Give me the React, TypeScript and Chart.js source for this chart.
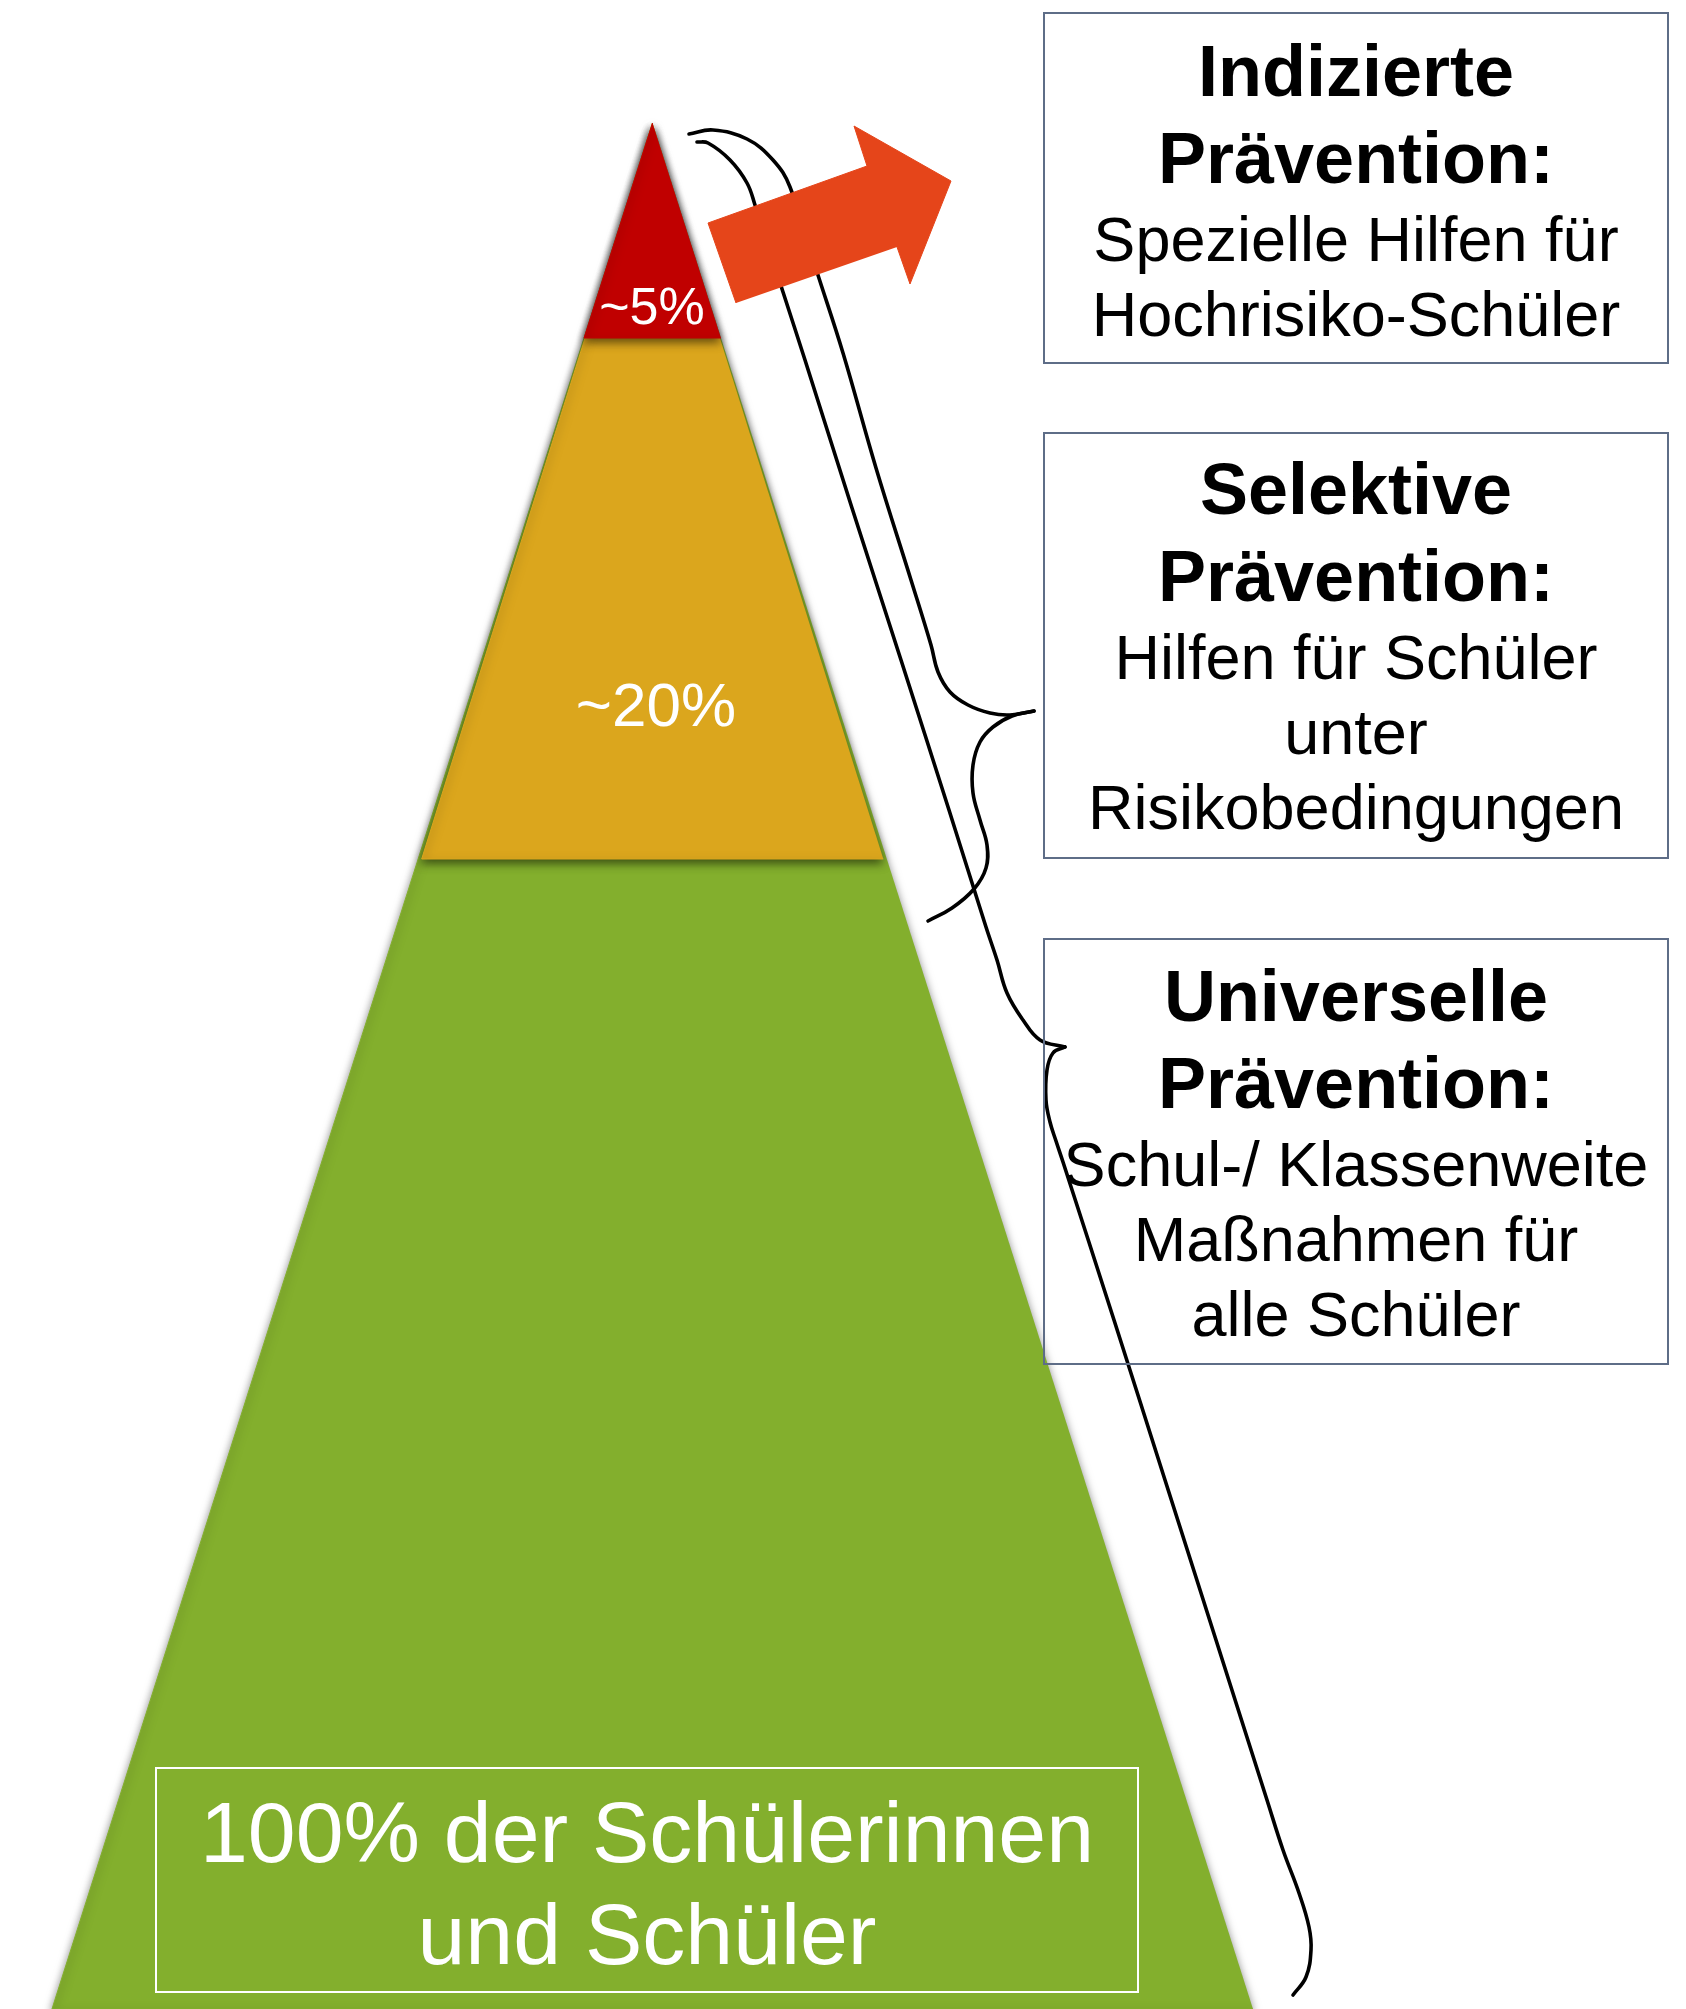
import React, { useEffect, useRef } from "react";
import { Chart, registerables } from "chart.js";

const W = 1686;
const H = 2009;

// ---------- Pyramid levels (top -> bottom) ----------
const levelShareLabels = ["~5%", "~20%"];
const levelBottomY = [338, 859, 2009];
const levelColors = ["#C00000", "#DBA61D", "#83AF2D"];
const apexX = 652.5;
const apexY = 123;
const edgeSlope = 0.3184; // horizontal spread per vertical unit
const levelWidthScale = [1, 0.985, 1];

// label anchors for the level shares
const shareLabelX = [652, 656];
const shareLabelY = [324, 726];
const shareLabelSize = [52, 62];

// ---------- Bottom box ----------
const baseLines = ["100% der Schülerinnen", "und Schüler"];
const baseBox = [156, 1768, 1138, 1992]; // left, top, right, bottom
const baseLineY = [1862, 1964];

// ---------- Right boxes ----------
const boxTitles = [
  ["Indizierte", "Prävention:"],
  ["Selektive", "Prävention:"],
  ["Universelle", "Prävention:"],
];
const boxBodies = [
  ["Spezielle Hilfen für", "Hochrisiko-Schüler"],
  ["Hilfen für Schüler", "unter", "Risikobedingungen"],
  ["Schul-/ Klassenweite", "Maßnahmen für", "alle Schüler"],
];
const boxTop = [13, 433, 939];
const boxBottom = [363, 858, 1364];
const boxLeft = 1044;
const boxRight = 1668;
const boxFirstBaseline = [96, 514, 1021];

// ---------- Arrow ----------
const arrowX = [736, 708, 867, 854, 951, 910, 897];
const arrowY = [303, 223, 166, 126, 181, 284, 247];

// ---------- Braces ----------
const braceSelUpper: [number, number][] = [
  [689, 134], [713, 130], [747, 139], [773, 160], [790, 187], [817, 272],
  [843, 353], [876, 468], [911, 580], [931, 645], [938, 672], [950, 692],
  [968, 705], [990, 713], [1010, 715], [1034, 711],
];
const braceSelLower: [number, number][] = [
  [1034, 711], [1012, 716], [993, 727], [980, 742], [973, 765], [973, 793],
  [980, 820], [987, 845], [986, 868], [974, 889], [952, 908], [928, 921],
];
const braceUniUpper: [number, number][] = [
  [697, 142], [708, 143], [730, 160], [747, 183], [755, 205], [783, 292],
  [805, 360], [852, 508], [901, 660], [949, 810], [986, 927], [997, 960],
  [1007, 993], [1023, 1020], [1040, 1040], [1065, 1047],
];
const braceUniLower: [number, number][] = [
  [1065, 1047], [1053, 1053], [1047, 1070], [1046, 1100], [1050, 1122],
  [1056, 1141], [1063, 1162], [1114, 1320], [1165, 1480], [1216, 1640],
  [1267, 1800], [1283, 1850], [1299, 1893], [1309, 1927], [1311, 1950],
  [1306, 1977], [1293, 1995],
];

const FONT = '"Liberation Sans", Arial, Helvetica, sans-serif';

// shadow plugin registered before the filler so that fills get shadows
const shadowPlugin = {
  id: "levelShadow",
  beforeDatasetDraw(chart: any, args: any) {
    const ds = chart.data.datasets[args.index];
    if (ds && ds.shadow) {
      const ctx = chart.ctx;
      ctx.save();
      ctx.shadowColor = "rgba(0,0,0,0.55)";
      ctx.shadowBlur = 10;
      ctx.shadowOffsetX = 0;
      ctx.shadowOffsetY = 4;
    }
  },
  afterDatasetDraw(chart: any, args: any) {
    const ds = chart.data.datasets[args.index];
    if (ds && ds.shadow) chart.ctx.restore();
  },
};

Chart.register(shadowPlugin as any);
Chart.register(...registerables);

const overlayPlugin = {
  id: "overlay",
  afterDatasetsDraw(chart: any) {
    const ctx = chart.ctx as CanvasRenderingContext2D;
    const xs = chart.scales.x;
    const ys = chart.scales.y;
    const px = (v: number) => xs.getPixelForValue(v);
    const py = (v: number) => ys.getPixelForValue(v);
    ctx.save();
    ctx.textAlign = "center";
    ctx.textBaseline = "alphabetic";

    // share labels
    ctx.fillStyle = "#ffffff";
    levelShareLabels.forEach((t, i) => {
      ctx.font = `${shareLabelSize[i]}px ${FONT}`;
      ctx.fillText(t, px(shareLabelX[i]), py(shareLabelY[i]));
    });

    // bottom box
    ctx.strokeStyle = "#ffffff";
    ctx.lineWidth = 2;
    ctx.strokeRect(
      px(baseBox[0]), py(baseBox[1]),
      px(baseBox[2]) - px(baseBox[0]), py(baseBox[3]) - py(baseBox[1])
    );
    ctx.font = `86px ${FONT}`;
    const bcx = (baseBox[0] + baseBox[2]) / 2;
    baseLines.forEach((t, i) => ctx.fillText(t, px(bcx), py(baseLineY[i])));

    // right boxes
    const cx = (boxLeft + boxRight) / 2;
    for (let b = 0; b < boxTitles.length; b++) {
      ctx.strokeStyle = "#5E6D87";
      ctx.lineWidth = 2;
      ctx.strokeRect(
        px(boxLeft), py(boxTop[b]),
        px(boxRight) - px(boxLeft), py(boxBottom[b]) - py(boxTop[b])
      );
      ctx.fillStyle = "#000000";
      let y = boxFirstBaseline[b];
      ctx.font = `bold 72px ${FONT}`;
      boxTitles[b].forEach((t, i) => {
        if (i > 0) y += 87;
        ctx.fillText(t, px(cx), py(y));
      });
      ctx.font = `63px ${FONT}`;
      boxBodies[b].forEach((t, i) => {
        y += i === 0 ? 78 : 75;
        ctx.fillText(t, px(cx), py(y));
      });
    }
    ctx.restore();
  },
};

function triangle(bottomY: number, k: number) {
  const half = (bottomY - apexY) * edgeSlope * k;
  return [
    { x: apexX, y: apexY },
    { x: apexX - half, y: bottomY },
    { x: apexX + half, y: bottomY },
  ];
}

const toPts = (arr: [number, number][]) => arr.map(([x, y]) => ({ x, y }));

export default function App() {
  const ref = useRef<HTMLCanvasElement>(null);
  useEffect(() => {
    document.body.style.margin = "0";
    const levelSets = levelBottomY.map((by, i) => ({
      data: triangle(by, levelWidthScale[i]),
      backgroundColor: levelColors[i],
      borderColor: levelColors[i],
      borderWidth: 1,
      fill: "shape",
      tension: 0,
      pointRadius: 0,
      order: 8 + i, // higher order is drawn first: green, then orange, then red
      shadow: true,
    }));
    const braceSet = (pts: [number, number][]) => ({
      data: toPts(pts),
      borderColor: "#000000",
      borderWidth: 3.6,
      borderCapStyle: "round",
      borderJoinStyle: "round",
      fill: false,
      tension: 0.4,
      pointRadius: 0,
      order: 3,
    });
    const arrowSet = {
      data: arrowX.map((x, i) => ({ x, y: arrowY[i] })),
      backgroundColor: "#E5451A",
      borderColor: "#E5451A",
      borderWidth: 1,
      fill: "shape",
      tension: 0,
      pointRadius: 0,
      order: 1,
    };
    const chart = new Chart(ref.current!, {
      type: "line",
      data: {
        datasets: [
          ...levelSets,
          braceSet(braceSelUpper),
          braceSet(braceSelLower),
          braceSet(braceUniUpper),
          braceSet(braceUniLower),
          arrowSet,
        ] as any,
      },
      options: {
        responsive: false,
        maintainAspectRatio: false,
        animation: false,
        devicePixelRatio: 1,
        layout: { padding: 0 },
        scales: {
          x: { type: "linear", min: 0, max: W, display: false },
          y: { type: "linear", min: 0, max: H, reverse: true, display: false },
        },
        plugins: {
          legend: { display: false },
          tooltip: { enabled: false },
        },
        events: [],
      } as any,
      plugins: [overlayPlugin as any],
    });
    return () => chart.destroy();
  }, []);
  return (
    <div style={{ position: "fixed", left: 0, top: 0, width: W, height: H, background: "#ffffff" }}>
      <canvas ref={ref} width={W} height={H} style={{ width: W, height: H, display: "block" }} />
    </div>
  );
}
